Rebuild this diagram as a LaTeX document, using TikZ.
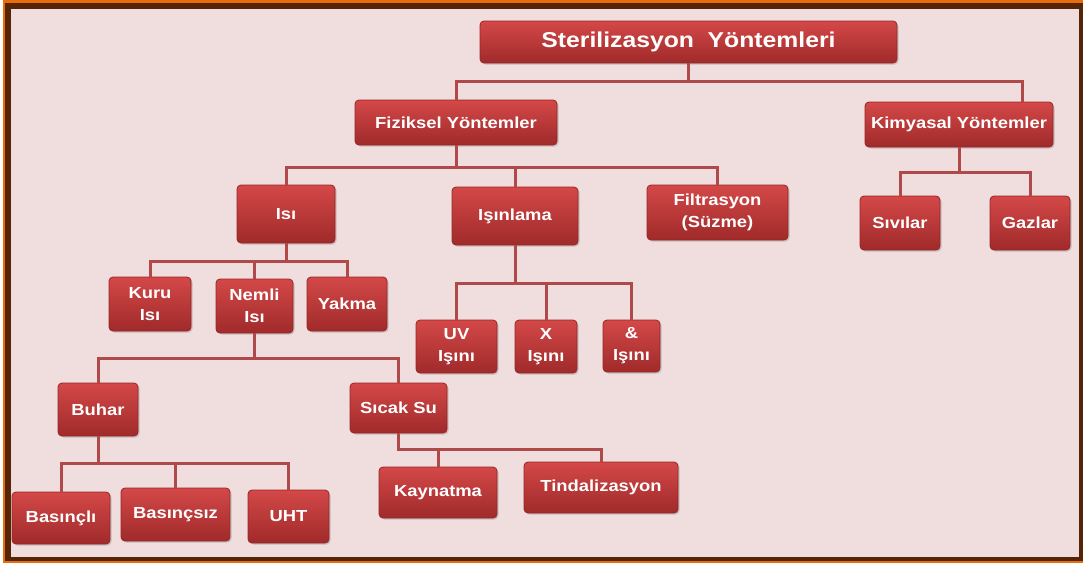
\documentclass[tikz,border=0pt]{standalone}
\usepackage{fontspec}
\setmainfont{Liberation Sans}
\newfontfamily\kutufont[FakeStretch=1.15]{Liberation Sans Bold}
\usetikzlibrary{shadows}
\definecolor{cerceve}{RGB}{232,110,12}
\definecolor{kahve}{RGB}{86,36,6}
\definecolor{zemin}{RGB}{240,221,221}
\definecolor{kutuust}{RGB}{212,72,72}
\definecolor{kutualt}{RGB}{160,42,42}
\definecolor{kutukenar}{RGB}{150,38,38}
\definecolor{hat}{RGB}{176,74,74}
\begin{document}
\begin{tikzpicture}[x=1pt, y=1pt]
\tikzstyle{kutu}=[draw=kutukenar, line width=0.8pt, rounded corners=4pt,
  top color=kutuust, bottom color=kutualt, text=white, align=center,
  inner sep=0pt, font=\kutufont\fontsize{16}{22}\selectfont,
  drop shadow={opacity=0.35, shadow xshift=1.5pt, shadow yshift=-1.5pt}];
\tikzstyle{baslik}=[kutu, font=\kutufont\fontsize{21.5}{24}\selectfont];
\tikzstyle{hat}=[draw=hat, line width=3pt];
\useasboundingbox (0,0) rectangle (1083,-563);
% cerceve
\fill[cerceve] (3,0) rectangle (1083,-563);
\fill[kahve] (5,-3) rectangle (1083,-561);
\fill[zemin] (11,-9) rectangle (1079,-557);
\node [baslik, minimum width=417, minimum height=42] (ster) at (688.5,-42) {Sterilizasyon\ \ Yöntemleri};
\node [kutu, minimum width=202, minimum height=45] (fiz) at (456,-122.5) {Fiziksel Yöntemler};
\node [kutu, minimum width=188, minimum height=45] (kim) at (959,-124.5) {Kimyasal Yöntemler};
\node [kutu, minimum width=98, minimum height=58] (isi) at (286,-214) {Isı};
\node [kutu, minimum width=126, minimum height=58] (isin) at (515,-216) {Işınlama};
\node [kutu, minimum width=141, minimum height=55] (filt) at (717.5,-212.5) {Filtrasyon\\(Süzme)};
\node [kutu, minimum width=80, minimum height=54] (sivi) at (900,-223) {Sıvılar};
\node [kutu, minimum width=80, minimum height=54] (gaz) at (1030,-223) {Gazlar};
\node [kutu, minimum width=82, minimum height=54] (kuru) at (150,-304) {Kuru\\Isı};
\node [kutu, minimum width=77, minimum height=54] (nemli) at (254.5,-306) {Nemli\\Isı};
\node [kutu, minimum width=80, minimum height=54] (yakma) at (347,-304) {Yakma};
\node [kutu, minimum width=81, minimum height=53] (uv) at (456.5,-346.5) {UV\\Işını};
\node [kutu, minimum width=62, minimum height=53] (x) at (546,-346.5) {X\\Işını};
\node [kutu, minimum width=57, minimum height=52] (amp) at (631.5,-346) {\&\\Işını};
\node [kutu, minimum width=80, minimum height=53] (buhar) at (98,-409.5) {Buhar};
\node [kutu, minimum width=97, minimum height=50] (sicak) at (398.5,-408) {Sıcak Su};
\node [kutu, minimum width=98, minimum height=52] (basli) at (61,-518) {Basınçlı};
\node [kutu, minimum width=109, minimum height=53] (bassiz) at (175.5,-514.5) {Basınçsız};
\node [kutu, minimum width=81, minimum height=53] (uht) at (288.5,-516.5) {UHT};
\node [kutu, minimum width=118, minimum height=51] (kayn) at (438,-492.5) {Kaynatma};
\node [kutu, minimum width=154, minimum height=51] (tind) at (601,-487.5) {Tindalizasyon};
% baglantilar
\draw [hat] (ster.south) -- ++(0,-18) -| (fiz.north);
\draw [hat] (ster.south) -- ++(0,-18) -| ([xshift=63pt]kim.north);
\draw [hat] (fiz.south) -- ++(0,-22) -| (isi.north)
  (fiz.south) -- ++(0,-22) -| (isin.north)
  (fiz.south) -- ++(0,-22) -| (filt.north);
\draw [hat] (kim.south) -- ++(0,-25) -| (sivi.north)
  (kim.south) -- ++(0,-25) -| (gaz.north);
\draw [hat] (isi.south) -- ++(0,-18) -| (kuru.north)
  (isi.south) -- ++(0,-18) -| ([xshift=-0.5pt]nemli.north)
  (isi.south) -- ++(0,-18) -| (yakma.north);
\draw [hat] (isin.south) -- ++(0,-38) -| (uv.north)
  (isin.south) -- ++(0,-38) -| (x.north)
  (isin.south) -- ++(0,-38) -| (amp.north);
\draw [hat] (nemli.south) -- ++(0,-25) -| (buhar.north)
  (nemli.south) -- ++(0,-25) -| (sicak.north);
\draw [hat] (buhar.south) -- ++(0,-27) -| (basli.north)
  (buhar.south) -- ++(0,-27) -| (bassiz.north)
  (buhar.south) -- ++(0,-27) -| (uht.north);
\draw [hat] (sicak.south) -- ++(0,-16) -| (kayn.north)
  (sicak.south) -- ++(0,-16) -| (tind.north);
\end{tikzpicture}
\end{document}
